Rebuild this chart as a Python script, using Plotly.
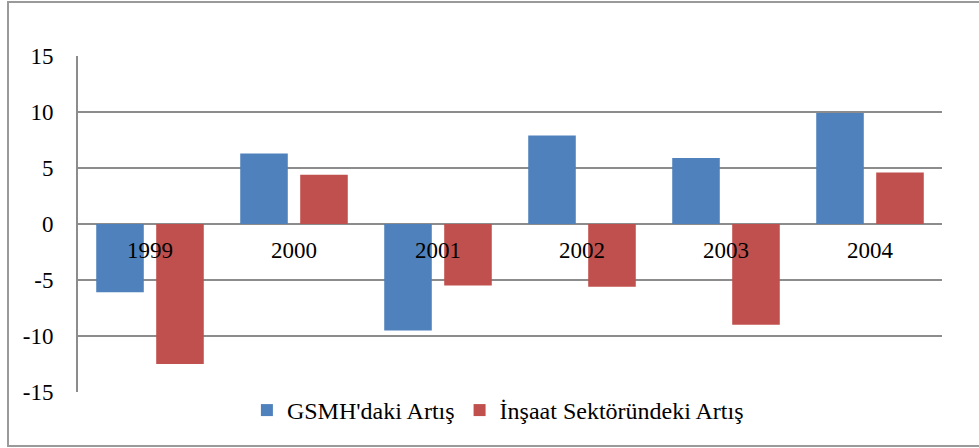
import plotly.graph_objects as go

years = ["1999", "2000", "2001", "2002", "2003", "2004"]
gsmh = [-6.1, 6.3, -9.5, 7.9, 5.9, 9.9]
insaat = [-12.5, 4.4, -5.5, -5.6, -9.0, 4.6]
series_names = ["GSMH'daki Artış", "İnşaat Sektöründeki Artış"]
y_ticks = [-15, -10, -5, 0, 5, 10, 15]
y_tick_text = ["-15", "-10", "-5", "0", "5", "10", "15"]

FONT = "Liberation Serif"

fig = go.Figure()
fig.add_trace(go.Bar(x=years, y=gsmh, name=series_names[0],
                     marker=dict(color="#4F81BD", line=dict(width=0))))
fig.add_trace(go.Bar(x=years, y=insaat, name=series_names[1],
                     marker=dict(color="#C0504D", line=dict(width=0))))

fig.update_layout(
    width=979, height=448,
    margin=dict(l=78, r=37, t=56, b=56, autoexpand=False),
    paper_bgcolor="white", plot_bgcolor="white",
    font=dict(family=FONT, size=23, color="black"),
    barmode="group", bargap=0.167, bargroupgap=0.207,
    showlegend=True,
    legend=dict(orientation="h", x=0.486, xanchor="center", y=-0.055, yanchor="middle",
                font=dict(family=FONT, size=24, color="black"),
                itemsizing="constant", bgcolor="rgba(0,0,0,0)", traceorder="normal"),
    xaxis=dict(type="category", anchor="free", position=0.5, showline=False, showgrid=False,
               zeroline=False, ticks="", ticklabelstandoff=10, automargin=False,
               tickfont=dict(family=FONT, size=23, color="black")),
    yaxis=dict(range=[-15, 15], tickvals=y_ticks, ticktext=y_tick_text, showgrid=True,
               gridcolor="#8c8c8c", gridwidth=2, zeroline=True, zerolinecolor="#8c8c8c",
               zerolinewidth=2, showline=True, linecolor="#8c8c8c", linewidth=2, ticks="",
               ticklabelstandoff=18, automargin=False,
               tickfont=dict(family=FONT, size=23, color="black")),
)
fig.add_shape(type="rect", xref="paper", yref="paper",
              x0=(8 - 78) / 864, x1=(985 - 78) / 864,
              y0=(392 - 446) / 336, y1=(392 - 2) / 336,
              line=dict(color="#9a9a9a", width=2), fillcolor="rgba(0,0,0,0)", layer="above")

fig.write_html("out.html", config={"displayModeBar": False},
               post_script="document.body.style.margin='0';document.body.style.padding='0';")
